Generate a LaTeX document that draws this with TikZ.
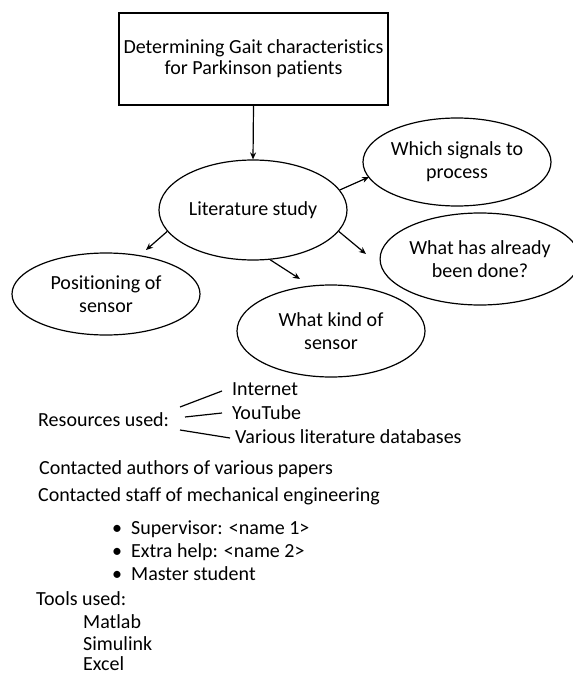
\documentclass[tikz,border=0pt]{standalone}
\usepackage{fontspec}
\setmainfont{Carlito}[Ligatures=NoCommon]
\usetikzlibrary{shapes.geometric,arrows.meta}
\begin{document}
\begin{tikzpicture}[x=1pt,y=-1pt,
  every node/.style={font=\fontsize{20}{23}\selectfont, inner sep=0pt},
  bubble/.style={draw, line width=1.2pt, ellipse, align=center, minimum width=188pt},
  arr/.style={line width=1.2pt, -{Stealth[length=7pt,width=6pt]}},
  ln/.style={line width=1.2pt},
  txt/.style={anchor=base west}]
\useasboundingbox (0,0) rectangle (572,676);
% top box
\node[draw, line width=1.2pt, minimum width=269pt, minimum height=92pt, align=center,
      font=\fontsize{20}{21}\selectfont] (top) at (253.5,59) {Determining Gait characteristics\\for Parkinson patients};
% ellipses
\node[bubble, minimum height=100pt] (lit) at (253,210) {Literature study};
\node[bubble, minimum height=88pt] (which) at (457,162) {Which signals to\\process};
\node[bubble, minimum height=92pt, minimum width=186pt] (done) at (480,259) {What has already\\been done?};
\node[bubble, minimum height=82pt] (pos) at (106,294) {Positioning of\\sensor};
\node[bubble, minimum height=92pt] (kind) at (331,331) {What kind of\\sensor};
% arrow ends
\coordinate (eWhich) at (369,177);
\coordinate (eDone) at (366,254);
\coordinate (ePos) at (146,250);
\coordinate (eKind) at (300,279);
\draw[arr] (top.south) -- (lit.north);
\draw[arr] (lit.13.6) -- (eWhich);
\draw[arr] (lit.346) -- (eDone);
\draw[arr] (lit.194.5) -- (ePos);
\draw[arr] (lit.289) -- (eKind);
% resources
\node[txt] (res) at (38,426) {Resources used:};
\node[txt] (inet) at (232,395) {Internet};
\node[txt] (yt) at (232,419) {YouTube};
\node[txt] (var) at (235,443) {Various literature databases};
\coordinate (r1s) at (180,407); \coordinate (r1e) at (222,391);
\coordinate (r2s) at (185,417); \coordinate (r2e) at (222,413);
\coordinate (r3s) at (180,430); \coordinate (r3e) at (230,438);
\draw[ln] (r1s) -- (r1e);
\draw[ln] (r2s) -- (r2e);
\draw[ln] (r3s) -- (r3e);
% other text
\node[txt] (auth) at (39,474) {Contacted authors of various papers};
\node[txt] (staff) at (38,501) {Contacted staff of mechanical engineering};
\node[txt] (b1) at (112,534) {\makebox[19pt][l]{•}Supervisor: <name 1>};
\node[txt] (b2) at (112,557) {\makebox[19pt][l]{•}Extra help: <name 2>};
\node[txt] (b3) at (112,580) {\makebox[19pt][l]{•}Master student};
\node[txt] (tools) at (36,605) {Tools used:};
\node[txt] (t1) at (83,628) {Matlab};
\node[txt] (t2) at (83,650) {Simulink};
\node[txt] (t3) at (83,670) {Excel};
\end{tikzpicture}
\end{document}
